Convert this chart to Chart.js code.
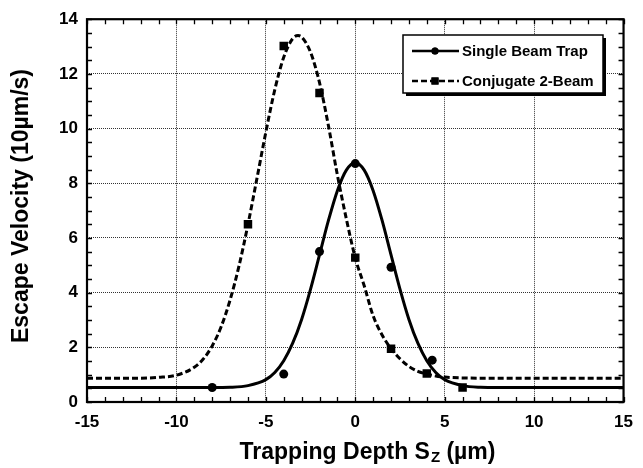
<!DOCTYPE html>
<html>
<head>
<meta charset="utf-8">
<script src="https://cdn.jsdelivr.net/npm/chart.js@4.4.0/dist/chart.umd.min.js"></script>
<style>
  html,body{margin:0;padding:0;background:#fff;}
  #wrap{width:643px;height:468px;}
</style>
</head>
<body>
<div id="wrap"><canvas id="c" width="643" height="468"></canvas></div>
<script>
// measured points
const singleX = [-8, -4, -2, 0, 2, 4.3];
const singleY = [0.53, 1.02, 5.5, 8.72, 4.93, 1.53];
const conjX = [-6, -4, -2, 0, 2, 4, 6];
const conjY = [6.5, 13.02, 11.3, 5.28, 1.95, 1.04, 0.53];

// fitted curves
const singleFitX = [-15,-10,-8,-7,-6,-5,-4.5,-4,-3.5,-3,-2.5,-2,-1.5,-1,-0.5,0,0.5,1,1.5,2,2.5,3,3.5,4,4.5,5,6,7,8,10,15];
const singleFitY = [0.53,0.53,0.53,0.54,0.6,0.82,1.08,1.51,2.15,3.02,4.13,5.38,6.64,7.73,8.48,8.75,8.48,7.73,6.64,5.38,4.13,3.02,2.15,1.51,1.08,0.82,0.6,0.54,0.53,0.53,0.53];
const conjFitX = [-15,-12,-11,-10,-9,-8.5,-8,-7.5,-7,-6.5,-6,-5.5,-5,-4.5,-4,-3.5,-3.2,-3,-2.5,-2,-1.5,-1,-0.5,0,0.5,1,1.5,2,2.5,3,3.5,4,4.5,5,6,8,15];
const conjFitY = [0.87,0.87,0.9,0.98,1.27,1.57,2.05,2.75,3.73,4.98,6.49,8.17,9.87,11.42,12.61,13.29,13.4,13.35,12.79,11.68,10.1,8.3,6.7,5.27,4.25,3.15,2.45,1.95,1.58,1.3,1.12,1.02,0.95,0.91,0.88,0.87,0.87];

const xTicks = [-15, -10, -5, 0, 5, 10, 15];
const yTicks = [0, 2, 4, 6, 8, 10, 12, 14];
const seriesNames = ['Single Beam Trap', 'Conjugate 2-Beam'];

const FONT = '"Liberation Sans", Arial, Helvetica, sans-serif';
const pts = (xs, ys) => xs.map((x, i) => ({x: x, y: ys[i]}));

// frame, minor ticks, axis titles, legend
const decor = {
  id: 'decor',
  afterDraw(chart){
    const ctx = chart.ctx, a = chart.chartArea;
    const xs = chart.scales.x, ys = chart.scales.y;
    ctx.save();
    ctx.strokeStyle = '#000';
    // minor ticks
    ctx.lineWidth = 1.3;
    ctx.beginPath();
    for(let v = -15; v <= 15; v += 1){
      const px = Math.round(xs.getPixelForValue(v)) + 0.5;
      ctx.moveTo(px, a.bottom); ctx.lineTo(px, a.bottom - 5);
      ctx.moveTo(px, a.top); ctx.lineTo(px, a.top + 5);
    }
    for(let v = 0; v <= 14; v += 0.5){
      const py = Math.round(ys.getPixelForValue(v)) + 0.5;
      ctx.moveTo(a.left, py); ctx.lineTo(a.left + 5, py);
      ctx.moveTo(a.right, py); ctx.lineTo(a.right - 5, py);
    }
    ctx.stroke();
    // frame
    ctx.lineWidth = 2.2;
    ctx.strokeRect(a.left, a.top, a.right - a.left, a.bottom - a.top);

    // y title
    ctx.fillStyle = '#000';
    ctx.font = 'bold 23px ' + FONT;
    ctx.textAlign = 'center';
    ctx.textBaseline = 'middle';
    ctx.save();
    ctx.translate(22, 206);
    ctx.rotate(-Math.PI / 2);
    ctx.fillText('Escape Velocity (10\u00b5m/s)', 0, 0);
    ctx.restore();

    // x title with subscript
    const p1 = 'Trapping Depth S', sub = 'Z', p2 = ' (\u00b5m)';
    ctx.textAlign = 'left';
    ctx.textBaseline = 'alphabetic';
    ctx.font = 'bold 23px ' + FONT;
    const w1 = ctx.measureText(p1).width, w3 = ctx.measureText(p2).width;
    ctx.font = 'bold 15px ' + FONT;
    const w2 = ctx.measureText(sub).width;
    let tx = 367 - (w1 + w2 + w3) / 2;
    const ty = 459;
    ctx.font = 'bold 23px ' + FONT;
    ctx.fillText(p1, tx, ty); tx += w1;
    ctx.font = 'bold 15px ' + FONT;
    ctx.fillText(sub, tx + 1, ty + 3); tx += w2 + 1;
    ctx.font = 'bold 23px ' + FONT;
    ctx.fillText(p2, tx, ty);

    // legend box
    const bx = 403, by = 35, bw = 200, bh = 58;
    ctx.fillStyle = '#000';
    ctx.fillRect(bx + 3, by + 3, bw, bh);
    ctx.fillStyle = '#fff';
    ctx.fillRect(bx, by, bw, bh);
    ctx.lineWidth = 1.5;
    ctx.strokeRect(bx, by, bw, bh);
    const rows = [by + 16, by + 46];
    ctx.font = 'bold 15px ' + FONT;
    ctx.textBaseline = 'middle';
    seriesNames.forEach((name, i) => {
      const line = chart.data.datasets[i];
      const mark = chart.data.datasets[i + 2];
      const y = rows[i];
      ctx.strokeStyle = '#000';
      ctx.lineWidth = 2.6;
      ctx.setLineDash(line.borderDash || []);
      ctx.beginPath(); ctx.moveTo(bx + 9, y); ctx.lineTo(bx + 56, y); ctx.stroke();
      ctx.setLineDash([]);
      ctx.fillStyle = '#000';
      Chart.helpers.drawPoint(ctx, {pointStyle: mark.pointStyle, radius: mark.pointRadius - 1, borderWidth: 0}, bx + 32, y);
      ctx.fill();
      ctx.fillText(name, bx + 59, y + 1);
    });
    ctx.restore();
  }
};

new Chart(document.getElementById('c'), {
  type: 'line',
  data: {
    datasets: [
      {label: seriesNames[0], data: pts(singleFitX, singleFitY), borderColor: '#000', borderWidth: 3,
       pointRadius: 0, cubicInterpolationMode: 'monotone', fill: false},
      {label: seriesNames[1], data: pts(conjFitX, conjFitY), borderColor: '#000', borderWidth: 3,
       borderDash: [6, 3], pointRadius: 0, cubicInterpolationMode: 'monotone', fill: false},
      {label: seriesNames[0] + ' data', data: pts(singleX, singleY), showLine: false,
       pointStyle: 'circle', pointRadius: 4.5, backgroundColor: '#000', borderColor: '#000', borderWidth: 0},
      {label: seriesNames[1] + ' data', data: pts(conjX, conjY), showLine: false,
       pointStyle: 'rect', pointRadius: 6, backgroundColor: '#000', borderColor: '#000', borderWidth: 0}
    ]
  },
  options: {
    responsive: false,
    animation: false,
    layout: {padding: {top: 14, right: 9, left: 0, bottom: 0}},
    plugins: {legend: {display: false}, tooltip: {enabled: false}},
    scales: {
      x: {
        type: 'linear', min: -15, max: 15,
        afterBuildTicks(s){ s.ticks = xTicks.map(v => ({value: v})); },
        afterFit(s){ s.height = 66; },
        ticks: {color: '#000', padding: 10, font: {family: FONT, size: 17, weight: 'bold'}},
        grid: {color: '#333', lineWidth: 1, drawTicks: false},
        border: {display: false, dash: [1, 1]}
      },
      y: {
        type: 'linear', min: 0, max: 14,
        afterBuildTicks(s){ s.ticks = yTicks.map(v => ({value: v})); },
        afterFit(s){ s.width = 87; },
        ticks: {color: '#000', padding: 9, font: {family: FONT, size: 17, weight: 'bold'}},
        grid: {color: '#333', lineWidth: 1, drawTicks: false},
        border: {display: false, dash: [1, 1]}
      }
    }
  },
  plugins: [decor]
});
</script>
</body>
</html>
